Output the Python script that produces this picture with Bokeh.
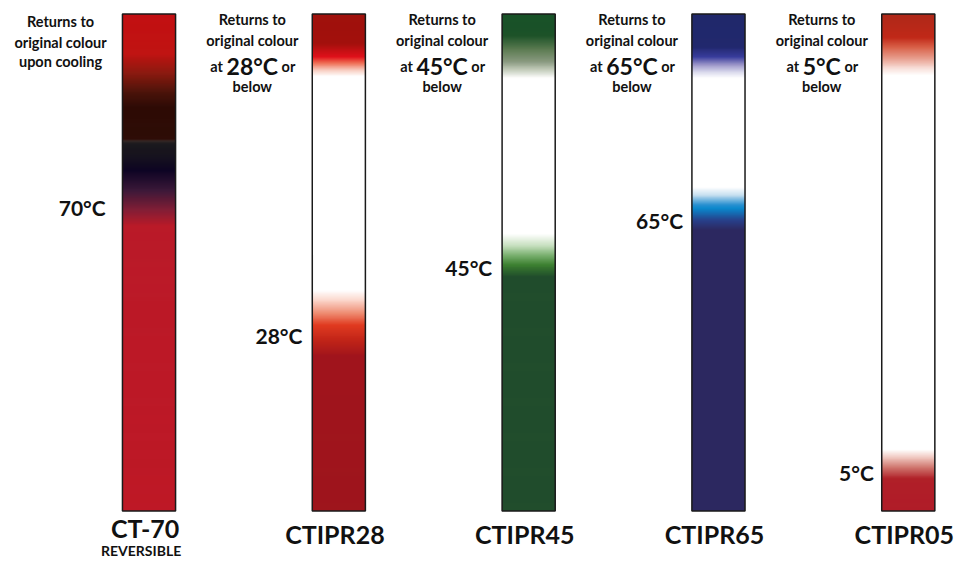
import numpy as np
from bokeh.plotting import figure
from bokeh.models import Range1d
from bokeh.core.properties import value
from bokeh.embed import file_html
from bokeh.resources import INLINE

# ---------------- data ----------------
product_names = ["CT-70", "CTIPR28", "CTIPR45", "CTIPR65", "CTIPR05"]
product_subtitles = ["REVERSIBLE", "", "", "", ""]
change_temps = [70, 28, 45, 65, 5]          # colour-change temperature (°C)
return_temps = [None, 28, 45, 65, 5]        # returns to original colour at/below (°C)

# ---------------- styles / layout ----------------
FONT = value("Lato")
BAR_X0, BAR_STEP, BAR_W = 124, 193, 54
BAR_TOP, BAR_BOT = 14, 525
TEMP_LABEL_Y = [213, 345, 275, 226, 485]
TEMP_LABEL_GAP = [17, 10, 10, 9, 8]

# gradient stops per bar: (y pixel along bar, colour)
GRADIENTS = [
    [(14, "#C20F12"), (55, "#C01412"), (75, "#8A1A10"), (95, "#4A130A"), (110, "#2E0B05"),
     (143, "#2E0C06"), (144, "#3A2A26"), (147, "#1C1A1E"), (160, "#16121E"), (175, "#0E0524"),
     (195, "#3A1838"), (215, "#801E36"), (232, "#BA1A28"), (525, "#BE1826")],
    [(14, "#A0110C"), (44, "#A2100C"), (58, "#E0101A"), (64, "#EE6A50"), (72, "#F8D0C4"),
     (78, "#FFFFFF"), (298, "#FFFFFF"), (308, "#FBD8CE"), (322, "#EE8A70"), (334, "#E03A20"),
     (350, "#C02418"), (366, "#A0141C"), (525, "#9E151C")],
    [(14, "#185228"), (36, "#1C5228"), (50, "#5A7A50"), (63, "#8A9A80"), (72, "#C8D0C0"),
     (80, "#FFFFFF"), (240, "#FFFFFF"), (252, "#C8E0C0"), (262, "#7AB070"), (272, "#3C8030"),
     (284, "#214D2C"), (525, "#214D2C")],
    [(14, "#20286A"), (48, "#22286E"), (58, "#383C9C"), (66, "#9A94C8"), (74, "#DCDCEE"),
     (80, "#FFFFFF"), (192, "#FFFFFF"), (200, "#C8E0F0"), (210, "#2A90D0"), (214, "#0A88CC"),
     (226, "#28408A"), (236, "#2C2860"), (525, "#2C2860")],
    [(14, "#AE2818"), (38, "#C02818"), (48, "#D86048"), (60, "#E8A090"), (70, "#F8E0DA"),
     (77, "#FFFFFF"), (462, "#FFFFFF"), (470, "#F0C8C0"), (480, "#D07870"), (492, "#B02028"),
     (525, "#B01C28")],
]


def hex_to_rgb(h):
    h = h.lstrip("#")
    return np.array([int(h[i:i + 2], 16) for i in (0, 2, 4)], dtype=float)


def gradient_colours(stops, ys):
    pos = np.array([s[0] for s in stops], dtype=float)
    rgb = np.array([hex_to_rgb(s[1]) for s in stops])
    out = []
    for y in ys:
        c = [np.interp(y, pos, rgb[:, k]) for k in range(3)]
        out.append("#%02x%02x%02x" % tuple(int(round(v)) for v in c))
    return out


p = figure(width=955, height=559, x_range=Range1d(0, 971), y_range=Range1d(575, 0),
           output_backend="svg", toolbar_location=None, min_border=0,
           x_axis_location=None, y_axis_location=None)
p.xgrid.visible = False
p.ygrid.visible = False
p.outline_line_color = None
p.background_fill_color = "white"
p.border_fill_color = "white"

TXT = "#111111"
SMALL = "14.5px"

for i, name in enumerate(product_names):
    left = BAR_X0 + i * BAR_STEP
    right = left + BAR_W
    centre = left + BAR_W / 2
    ys = np.arange(BAR_TOP, BAR_BOT, 1.0)
    cols = gradient_colours(GRADIENTS[i], ys + 0.5)
    bottoms = np.minimum(ys + 3.0, BAR_BOT)
    p.quad(left=[left] * len(ys), right=[right] * len(ys), top=list(ys), bottom=list(bottoms),
           fill_color=cols, fill_alpha=1.0, line_color=None)
    p.quad(left=[left], right=[right], top=[BAR_TOP], bottom=[BAR_BOT],
           fill_color=None, line_color="#1a1a1a", line_width=1.5)

    # temperature label beside the bar
    p.text(x=[left - TEMP_LABEL_GAP[i]], y=[TEMP_LABEL_Y[i]], text=[f"{change_temps[i]}°C"],
           text_font=FONT, text_font_style="bold", text_font_size="21px",
           text_align="right", text_baseline="middle", text_color=TXT)

    # product name under the bar
    name_y = 543 if product_subtitles[i] else 549
    p.text(x=[centre - 4], y=[name_y], text=[name], text_font=FONT, text_font_style="bold",
           text_font_size="25px", text_align="center", text_baseline="middle", text_color=TXT)
    if product_subtitles[i]:
        p.text(x=[centre - 8], y=[566], text=[product_subtitles[i]], text_font=FONT,
               text_font_style="bold", text_font_size="14px", text_align="center",
               text_baseline="middle", text_color=TXT)

    # annotation at the top-left of the bar
    ac = left - 61
    if return_temps[i] is None:
        lines = ["Returns to", "original colour", "upon cooling"]
        for t, yy in zip(lines, [22, 43, 63]):
            p.text(x=[ac - 2], y=[yy], text=[t], text_font=FONT, text_font_style="bold",
                   text_font_size=SMALL, text_align="center", text_baseline="middle",
                   text_color=TXT)
    else:
        for t, yy in zip(["Returns to", "original colour", "below"], [20, 41, 88]):
            p.text(x=[ac], y=[yy], text=[t], text_font=FONT, text_font_style="bold",
                   text_font_size=SMALL, text_align="center", text_baseline="middle",
                   text_color=TXT)
        big = f"{return_temps[i]}°C"
        ndig = len(str(return_temps[i]))
        half = (ndig * 0.58 + 0.42 + 0.66) * 23 / 2
        p.text(x=[ac], y=[67], text=[big], text_font=FONT, text_font_style="bold",
               text_font_size="23px", text_align="center", text_baseline="middle",
               text_color=TXT)
        p.text(x=[ac - half - 4], y=[68], text=["at"], text_font=FONT, text_font_style="bold",
               text_font_size=SMALL, text_align="right", text_baseline="middle",
               text_color=TXT)
        p.text(x=[ac + half + 4], y=[68], text=["or"], text_font=FONT, text_font_style="bold",
               text_font_size=SMALL, text_align="left", text_baseline="middle",
               text_color=TXT)

open("out.html", "w").write(file_html(p, INLINE))
